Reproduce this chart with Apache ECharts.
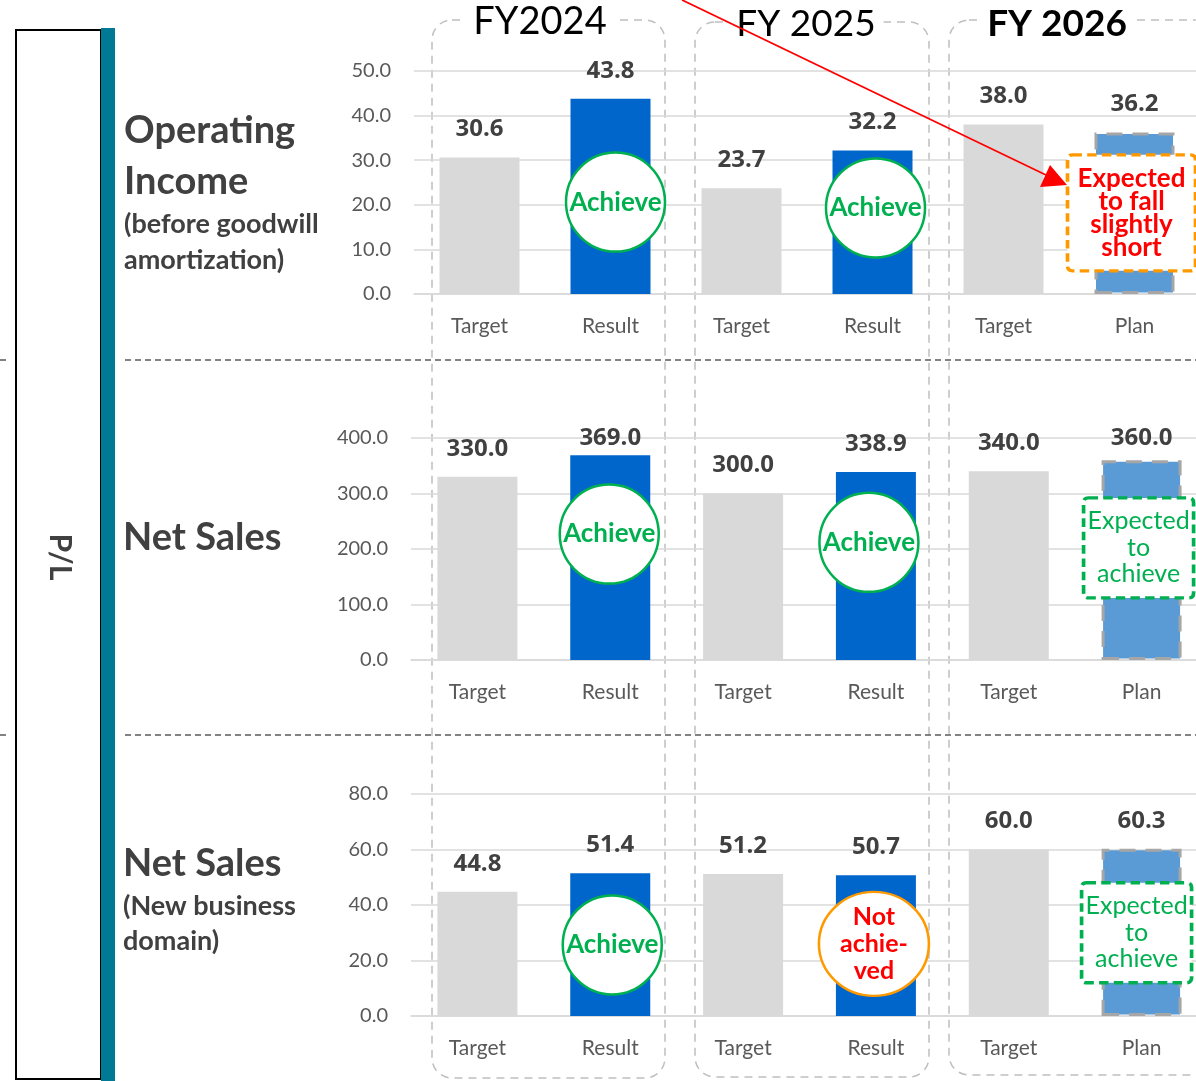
<html lang="en">
  <head>
    <meta charset="UTF-8" />
    <title>P/L targets and results</title>
    <style>
      body { margin: 0; background: #fff; overflow: hidden; }
    </style>
  </head>
  <body>
    <!-- a bit wider than the window: the FY2026 column runs off the right edge -->
    <div id="main" style="width: 1230px; height: 1081px"></div>

    <script src="https://cdn.jsdelivr.net/npm/echarts@6/dist/echarts.min.js"></script>
    <script>
      // data
      const categories = ['Target', 'Result', 'Target', 'Result', 'Target', 'Plan']
      const years = ['FY2024', 'FY 2025', 'FY 2026']
      const opIncome = [30.6, 43.8, 23.7, 32.2, 38.0, 36.2]
      const netSales = [330.0, 369.0, 300.0, 338.9, 340.0, 360.0]
      const newBizSales = [44.8, 51.4, 51.2, 50.7, 60.0, 60.3]
      const yMax = [50, 400, 80]
      const yStep = [10, 100, 20]

      const font = 'Lato, "Open Sans", sans-serif'
      const numFont = '"Open Sans", Lato, sans-serif'
      const grids = [
        { left: 414, top: 71, width: 786, height: 223 },
        { left: 411, top: 438, width: 797, height: 222 },
        { left: 411, top: 794, width: 797, height: 222 }
      ]

      function barItems(vals, p) {
        let g = grids[p]
        return vals.map((v, i) => {
          let style
          if (categories[i] === 'Target') style = { color: '#D9D9D9' }
          else if (categories[i] === 'Result') style = { color: '#0066CC' }
          else style = { color: '#5B9BD5', borderColor: '#A6A6A6', borderWidth: 3, borderType: [16, 10] }
          // labels never go above the top of the plot area
          let labelY = g.top + g.height * (1 - v / yMax[p]) - 28
          let shift = labelY < g.top ? g.top - labelY : 0
          return { value: v, itemStyle: style, label: { offset: [0, shift] } }
        })
      }

      // annotation badges, anchored to bars through data coordinates
      function achieve(idx, v, dx) {
        return {
          coord: [idx, v], symbol: 'circle', symbolSize: 99, symbolOffset: [dx, 0],
          itemStyle: { color: '#fff', borderColor: '#00B050', borderWidth: 2.5 },
          label: { show: true, position: 'inside', formatter: 'Achieve', color: '#00B050', fontSize: 26, fontWeight: 'bold', fontFamily: font }
        }
      }
      function notAchieved(idx, v, dx) {
        return {
          coord: [idx, v], symbol: 'circle', symbolSize: [110, 104], symbolOffset: [dx, 0],
          itemStyle: { color: '#fff', borderColor: '#FF9900', borderWidth: 2.5 },
          label: { show: true, position: 'inside', formatter: 'Not\nachie-\nved', color: '#FF0000', fontSize: 25, lineHeight: 27, fontWeight: 'bold', fontFamily: font }
        }
      }
      function boxPath(w, h) {
        let r = 5
        return 'path://M' + r + ',0 H' + (w - r) + ' Q' + w + ',0 ' + w + ',' + r + ' V' + (h - r) +
          ' Q' + w + ',' + h + ' ' + (w - r) + ',' + h + ' H' + r + ' Q0,' + h + ' 0,' + (h - r) +
          ' V' + r + ' Q0,0 ' + r + ',0 Z'
      }
      function planBox(idx, v, dx, color, text, bold, size) {
        return {
          coord: [idx, v], symbol: boxPath(size[0], size[1]), symbolSize: size, symbolOffset: [dx, 0],
          itemStyle: { color: '#fff', borderColor: color === 'red' ? '#FF9900' : '#00B050', borderWidth: 3.5, borderType: [9, 5] },
          label: {
            show: true, position: 'inside', formatter: text,
            color: color === 'red' ? '#FF0000' : '#00B050',
            fontSize: bold ? 26 : 25, lineHeight: bold ? 23 : 26.5,
            fontWeight: bold ? 'bold' : 'normal', fontFamily: font
          }
        }
      }

      const marks = [
        [achieve(1, 20.6, 5), achieve(3, 19.3, 3), planBox(5, 18.2, -3, 'red', 'Expected\nto fall\nslightly\nshort', true, [128, 116])],
        [achieve(1, 227, -1), achieve(3, 212, -7), planBox(5, 202, -3, 'green', 'Expected\nto\nachieve', false, [110, 100])],
        [achieve(1, 25.6, 2), notAchieved(3, 26, -2), planBox(5, 30, -5, 'green', 'Expected\nto\nachieve', false, [110, 100])]
      ]

      const panels = [opIncome, netSales, newBizSales]

      const xAxis = grids.map((g, i) => ({
        type: 'category', gridIndex: i, data: categories,
        axisLine: { lineStyle: { color: '#D9D9D9', width: 1.5 } },
        axisTick: { show: false },
        axisLabel: { color: '#595959', fontSize: 21, margin: 22, fontFamily: font }
      }))
      const yAxis = grids.map((g, i) => ({
        type: 'value', gridIndex: i, min: 0, max: yMax[i], interval: yStep[i],
        axisLine: { show: false }, axisTick: { show: false },
        splitLine: { lineStyle: { color: '#D9D9D9', width: 1.5 } },
        axisLabel: { color: '#595959', fontSize: 20, margin: 23, fontFamily: font, formatter: v => v.toFixed(1) }
      }))
      const series = panels.map((vals, i) => ({
        type: 'bar', xAxisIndex: i, yAxisIndex: i, barWidth: 80,
        data: barItems(vals, i),
        label: {
          show: true, position: 'top', distance: 16,
          color: '#404040', fontSize: 24, fontWeight: 'bold', fontFamily: numFont,
          formatter: p => p.value.toFixed(1)
        },
        markPoint: { animation: false, data: marks[i] }
      }))

      const titleColor = '#404040'
      const boxLine = { fill: 'none', stroke: '#BFBFBF', lineWidth: 1.5, lineDash: [8, 6] }
      const graphic = [
        // fiscal year boxes
        { type: 'rect', shape: { x: 432, y: 20, width: 233, height: 1058, r: 20 }, style: boxLine, z: 0 },
        { type: 'rect', shape: { x: 695, y: 22, width: 234, height: 1055, r: 20 }, style: boxLine, z: 0 },
        { type: 'rect', shape: { x: 949, y: 20, width: 270, height: 1055, r: 20 }, style: boxLine, z: 0 },
        // section separators
        { type: 'line', shape: { x1: 0, y1: 360, x2: 10, y2: 360 }, style: { stroke: '#595959', lineWidth: 1.5, lineDash: [6, 4] }, z: 1 },
        { type: 'line', shape: { x1: 125, y1: 360, x2: 1196, y2: 360 }, style: { stroke: '#595959', lineWidth: 1.5, lineDash: [6, 4] }, z: 1 },
        { type: 'line', shape: { x1: 0, y1: 735, x2: 10, y2: 735 }, style: { stroke: '#595959', lineWidth: 1.5, lineDash: [6, 4] }, z: 1 },
        { type: 'line', shape: { x1: 125, y1: 735, x2: 1196, y2: 735 }, style: { stroke: '#595959', lineWidth: 1.5, lineDash: [6, 4] }, z: 1 },
        // P/L box
        { type: 'rect', shape: { x: 16, y: 30, width: 85, height: 1049 }, style: { fill: '#fff', stroke: '#000', lineWidth: 2 }, z: 50 },
        { type: 'rect', shape: { x: 101, y: 28, width: 14, height: 1053 }, style: { fill: '#007A94' }, z: 51 },
        { type: 'text', x: 60, y: 557, rotation: -Math.PI / 2, style: { text: 'P/L', fill: titleColor, font: 'bold 30px ' + font, textAlign: 'center', textVerticalAlign: 'middle' }, z: 52 },
        // row titles
        { type: 'text', x: 124, y: 105.5, style: { text: 'Operating\nIncome', fill: titleColor, font: 'bold 38px ' + font, lineHeight: 51 }, z: 20 },
        { type: 'text', x: 124, y: 206, style: { text: '(before goodwill\namortization)', fill: titleColor, font: 'bold 27px ' + font, lineHeight: 36 }, z: 20 },
        { type: 'text', x: 123, y: 538, style: { text: 'Net Sales', fill: titleColor, font: 'bold 38px ' + font, textVerticalAlign: 'middle' }, z: 20 },
        { type: 'text', x: 123, y: 864, style: { text: 'Net Sales', fill: titleColor, font: 'bold 38px ' + font, textVerticalAlign: 'middle' }, z: 20 },
        { type: 'text', x: 123, y: 888.5, style: { text: '(New business\ndomain)', fill: titleColor, font: 'bold 27px ' + font, lineHeight: 35 }, z: 20 },
        // year headers
        { type: 'text', x: 540, y: 22, style: { text: years[0], fill: '#000', font: '38px ' + font, textAlign: 'center', textVerticalAlign: 'middle', backgroundColor: '#fff', padding: [0, 8] }, z: 30 },
        { type: 'text', x: 806, y: 24, style: { text: years[1], fill: '#000', font: '37px ' + font, textAlign: 'center', textVerticalAlign: 'middle', backgroundColor: '#fff', padding: [0, 8] }, z: 30 },
        { type: 'text', x: 1057, y: 24, style: { text: years[2], fill: '#000', font: 'bold 37px ' + font, textAlign: 'center', textVerticalAlign: 'middle', backgroundColor: '#fff', padding: [0, 8] }, z: 30 },
        // red arrow
        { type: 'line', shape: { x1: 682, y1: 0, x2: 1046, y2: 175 }, style: { stroke: '#FF0000', lineWidth: 1.8 }, z: 60 },
        { type: 'polygon', shape: { points: [[1067, 185], [1040, 187], [1050, 165]] }, style: { fill: '#FF0000' }, z: 60 }
      ]

      let mCharts = echarts.init(document.querySelector('#main'))
      mCharts.setOption({
        animation: false,
        grid: grids,
        xAxis: xAxis,
        yAxis: yAxis,
        series: series,
        graphic: graphic
      })
    </script>
  </body>
</html>
